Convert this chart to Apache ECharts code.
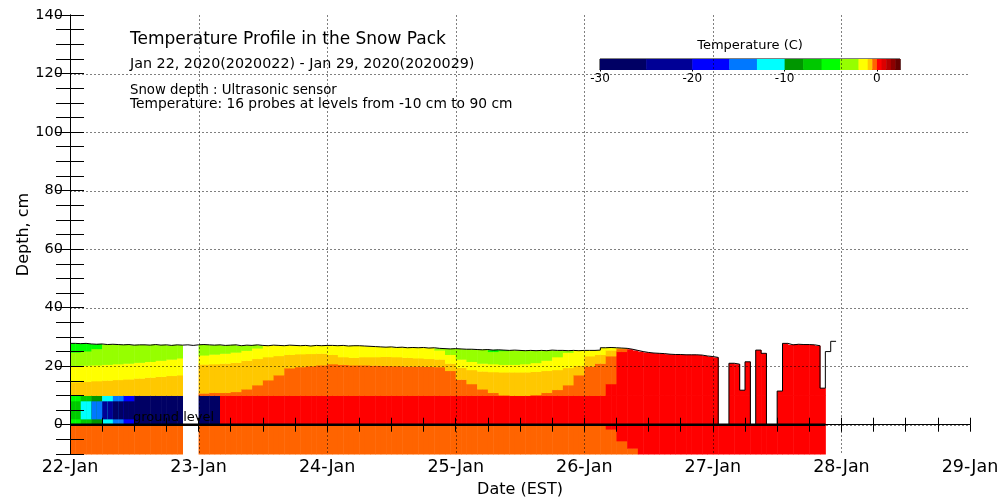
<!DOCTYPE html>
<html>
<head>
<meta charset="utf-8">
<script src="https://cdn.jsdelivr.net/npm/echarts@6/dist/echarts.min.js"></script>
<style>
html, body { margin: 0; padding: 0; background: #fff; }
#chart { width: 1000px; height: 500px; }
</style>
</head>
<body>
<div id="chart"></div>
<script>
// 刻度标签
const dayLabels = ['22-Jan', '23-Jan', '24-Jan', '25-Jan', '26-Jan', '27-Jan', '28-Jan', '29-Jan'];
const depthLabels = [0, 20, 40, 60, 80, 100, 120, 140];
const depthTicks = [-10, -5, 0, 5, 10, 15, 20, 25, 30, 35, 40, 45, 50, 55, 60, 65, 70, 75, 80, 85, 90,
    95, 100, 105, 110, 115, 120, 125, 130, 135, 140];
const depthGrid = [0, 20, 40, 60, 80, 100, 120];
const dayGrid = [1, 2, 3, 4, 5, 6];

// 色标 (C)
const tempBreaks = [-30, -25, -20, -16, -13, -10, -8, -6, -4, -2, -1, -0.5, 0, 0.5, 1, 1.5, 2, 2.5];
const tempColors = ['#000064', '#000096', '#0000ff', '#0078ff', '#00ffff', '#009600', '#00c800', '#00ff00',
    '#96ff00', '#ffff00', '#ffc800', '#ff6400', '#ff0000', '#dc0000', '#b40000', '#8c0000', '#640000'];
const tempBarLabels = [-30, -20, -10, 0];

// 雪深 cm, 每小时
const snow22 = [27.8, 27.7, 27.8, 27.6, 27.5, 27.6, 27.4, 27.5, 27.4, 27.3, 27.4, 27.2, 27.3, 27.3, 27.2, 27.4, 27.2, 27.3, 27.1, 27.3, 27.2, 27.3, 27.1, 27.3];
const snow23 = [27.4, 27.3, 27.2, 27.3, 27.1, 27.2, 27.3, 27.0, 27.2, 27.1, 27.3, 27.1, 27.0, 27.2, 27.1, 27.0, 27.2, 27.1, 27.0, 27.1, 26.9, 27.1, 27.0, 27.1];
const snow24 = [27.1, 27.0, 27.1, 26.9, 27.0, 27.0, 26.9, 26.8, 26.7, 26.6, 26.5, 26.6, 26.4, 26.5, 26.3, 26.4, 26.3, 26.4, 26.2, 26.3, 26.1, 26.0, 25.9, 26.0];
const snow25 = [25.9, 25.8, 25.8, 25.7, 25.6, 25.7, 25.5, 25.6, 25.5, 25.4, 25.5, 25.4, 25.3, 25.4, 25.3, 25.4, 25.3, 25.5, 25.4, 25.4, 25.3, 25.4, 25.3, 25.4];
const snow26 = [25.4, 25.4, 25.5, 26.3, 26.4, 26.3, 26.2, 26.1, 25.8, 25.4, 25.0, 24.7, 24.5, 24.4, 24.3, 24.1, 24.0, 24.0, 23.9, 23.9, 23.9, 23.8, 23.5, 23.3];
const snow27 = [23.0, 0, 0, 21.0, 20.7, 11.8, 21.5, 0, 25.5, 24.4, 0, 0, 11.5, 27.8, 27.3, 27.5, 27.4, 27.4, 27.3, 27.0, 12.5, 25.0, 28.5, null];

// 没有温度记录的小时 (从 22-Jan 00:00 起)
const tempMissingHours = [21, 22, 23, 141, 142, 143];

// 等温线深度 cm, 每两小时 (30 = 在雪面以上)
const iso0 = [
    10, 10, 10, 10, 10, 10, 10, 10, 10, 10, 10, 10,
    10, 10, 10, 10, 10, 10, 10, 10, 10, 10, 10, 10,
    10, 10, 10, 10, 10, 10, 10, 10, 10, 10, 10, 10,
    10, 10, 10, 10, 10, 10, 10, 10, 10, 10, 10, 10,
    10, 10, 14, 25, 30, 30, 30, 30, 30, 30, 30, 30,
    30, 30, 30, 30, 30, 30, 30, 30, 30, 30, 30, 30];
const iso05 = [
    10, 10, 10, 10, 10, 10, 10, 10, 10, 10, 10, 10,
    10.8, 11.0, 11.0, 11.3, 12.2, 13.6, 15.3, 17.0, 19.4, 19.8, 20.1, 20.4,
    20.8, 20.6, 20.4, 20.4, 20.3, 20.2, 20.1, 20.0, 20.0, 19.9, 19.8, 18.5,
    15.5, 14.0, 12.2, 11.0, 10.2, 10.0, 10.0, 10.3, 11.0, 12.0, 13.6, 17.0,
    20.0, 21.0, 23.5, 26, 30, 30, 30, 30, 30, 30, 30, 30,
    30, 30, 30, 30, 30, 30, 30, 30, 30, 30, 30, 30];
const iso1 = [
    14.6, 14.8, 15.0, 15.2, 15.4, 15.6, 15.9, 16.2, 16.5, 16.8, 17.0, 17.0,
    20.7, 20.8, 21.0, 21.3, 22.0, 22.6, 23.2, 23.6, 24.0, 24.2, 24.3, 24.4,
    24.0, 23.2, 23.0, 23.2, 23.2, 23.3, 23.2, 23.0, 22.8, 22.6, 22.4, 21.0,
    19.6, 18.8, 18.3, 18.1, 18.0, 18.0, 18.0, 18.2, 18.5, 18.8, 19.5, 20.3,
    23.5, 24.0, 25.5, 30, 30, 30, 30, 30, 30, 30, 30, 30,
    30, 30, 30, 30, 30, 30, 30, 30, 30, 30, 30, 30];
const iso2 = [
    20.2, 20.3, 20.4, 20.6, 20.8, 21.0, 21.3, 21.6, 22.0, 22.4, 22.8, 23.0,
    23.8, 24.1, 24.4, 24.8, 25.4, 26.2, 30, 30, 30, 30, 30, 30,
    30, 30, 30, 30, 30, 30, 30, 30, 30, 30, 25.5, 24.0,
    22.4, 21.6, 21.0, 20.8, 20.6, 20.6, 20.8, 21.2, 22.0, 23.2, 24.7, 30,
    30, 30, 30, 30, 30, 30, 30, 30, 30, 30, 30, 30,
    30, 30, 30, 30, 30, 30, 30, 30, 30, 30, 30, 30];
const iso4 = [
    24.8, 25.2, 26.0, 30, 30, 30, 30, 30, 30, 30, 30, 30,
    30, 30, 30, 30, 30, 30, 30, 30, 30, 30, 30, 30,
    30, 30, 30, 30, 30, 30, 30, 30, 30, 30, 30, 30,
    30, 30, 30, 25.0, 25.3, 30, 30, 30, 30, 30, 30, 30,
    30, 30, 30, 30, 30, 30, 30, 30, 30, 30, 30, 30,
    30, 30, 30, 30, 30, 30, 30, 30, 30, 30, 30, 30];
// 各层温度: 0C线以下, -0.5, -1, -2, -4, 最上层
const snowLayerTemps = [0.25, -0.25, -0.75, -1.5, -3, -5];

// 地面层 (0-10 cm) 温度, 每两小时: 边缘 / 中间
const groundEdge = [
    -5, -7, -9, -11, -14, -18, -27, -27, -27, -27, -27, -27,
    -27, -27, 0.25, 0.25, 0.25, 0.25, 0.25, 0.25, 0.25, 0.25, 0.25, 0.25,
    0.25, 0.25, 0.25, 0.25, 0.25, 0.25, 0.25, 0.25, 0.25, 0.25, 0.25, 0.25,
    0.25, 0.25, 0.25, 0.25, 0.25, 0.25, 0.25, 0.25, 0.25, 0.25, 0.25, 0.25,
    0.25, 0.25, 0.25, 0.25, 0.25, 0.25, 0.25, 0.25, 0.25, 0.25, 0.25, 0.25,
    0.25, 0.25, 0.25, 0.25, 0.25, 0.25, 0.25, 0.25, 0.25, 0.25, 0.25, 0.25];
const groundCore = [
    -7, -11, -14, -22, -27, -27, -27, -27, -27, -27, -27, -27,
    -27, -27, 0.25, 0.25, 0.25, 0.25, 0.25, 0.25, 0.25, 0.25, 0.25, 0.25,
    0.25, 0.25, 0.25, 0.25, 0.25, 0.25, 0.25, 0.25, 0.25, 0.25, 0.25, 0.25,
    0.25, 0.25, 0.25, 0.25, 0.25, 0.25, 0.25, 0.25, 0.25, 0.25, 0.25, 0.25,
    0.25, 0.25, 0.25, 0.25, 0.25, 0.25, 0.25, 0.25, 0.25, 0.25, 0.25, 0.25,
    0.25, 0.25, 0.25, 0.25, 0.25, 0.25, 0.25, 0.25, 0.25, 0.25, 0.25, 0.25];
const groundRimCm = 2;

// 土壤 (-10-0 cm): 0C 线以下深度, 每两小时 (0 = 全部低于0C)
const soilIso0 = [
    0, 0, 0, 0, 0, 0, 0, 0, 0, 0, 0, 0,
    0, 0, 0, 0, 0, 0, 0, 0, 0, 0, 0, 0,
    0, 0, 0, 0, 0, 0, 0, 0, 0, 0, 0, 0,
    0, 0, 0, 0, 0, 0, 0, 0, 0, 0, 0, 0,
    0, 0, -1.5, -5.5, -8, -10, -10, -10, -10, -10, -10, -10,
    -10, -10, -10, -10, -10, -10, -10, -10, -10, -10, -10, -10];

const groundLabel = ['ground level', 0.49];

const FONT = '"DejaVu Sans", sans-serif';
const snowDepth = [].concat(snow22, snow23, snow24, snow25, snow26, snow27);
const isoLines = [iso0, iso05, iso1, iso2, iso4];

// 组装格子 [t0, t1, 下, 上, 温度]
const cells = [];
let tempEnd = 0;
snowDepth.forEach((s, h) => {
    if (s == null || tempMissingHours.indexOf(h) > -1) return;
    const c = Math.floor(h / 2);
    const t0 = h / 24, t1 = (h + 1) / 24;
    tempEnd = Math.max(tempEnd, t1);
    if (soilIso0[c] > -10) cells.push([t0, t1, -10, soilIso0[c], snowLayerTemps[1]]);
    if (soilIso0[c] < 0) cells.push([t0, t1, soilIso0[c], 0, snowLayerTemps[0]]);
    const g = Math.min(10, s);
    if (g > 0) {
        cells.push([t0, t1, 0, g, groundEdge[c]]);
        if (groundCore[c] !== groundEdge[c] && g > groundRimCm) {
            cells.push([t0, t1, groundRimCm, Math.min(g, 10 - groundRimCm), groundCore[c]]);
        }
    }
    let lo = 10;
    isoLines.forEach((iso, i) => {
        const hi = Math.min(iso[c], s);
        if (hi > lo) {
            cells.push([t0, t1, lo, hi, snowLayerTemps[i]]);
            lo = hi;
        }
    });
    if (s > lo) cells.push([t0, t1, lo, s, snowLayerTemps[5]]);
});

const surface = [];
snowDepth.forEach((s, h) => { if (s != null) surface.push([h / 24, s]); });
surface.push([surface[surface.length - 1][0] + 1 / 24, surface[surface.length - 1][1]]);

const colorBar = tempColors.map((c, i) => [tempBreaks[i], tempBreaks[i + 1], 0, 1, (tempBreaks[i] + tempBreaks[i + 1]) / 2]);

// 网格虚线: [0, x] 竖线, [1, y] 横线
const gridLines = dayGrid.map(d => [0, d]).concat(depthGrid.map(d => [1, d]));

const drawCell = (params, api) => {
    const p0 = api.coord([api.value(0), api.value(3)]);
    const p1 = api.coord([api.value(1), api.value(2)]);
    return {
        type: 'rect',
        shape: { x: p0[0], y: p0[1], width: p1[0] - p0[0] + 0.5, height: p1[1] - p0[1] + 0.5 },
        style: { fill: api.visual('color') }
    };
};

const drawGridLine = (params, api) => {
    const cs = params.coordSys;
    const v = api.value(1);
    let a, b;
    if (api.value(0) === 0) {
        a = [api.coord([v, 0])[0], cs.y];
        b = [a[0], cs.y + cs.height];
    } else {
        a = [cs.x, api.coord([0, v])[1]];
        b = [cs.x + cs.width, a[1]];
    }
    return {
        type: 'line',
        shape: { x1: Math.round(a[0]) + 0.5, y1: Math.round(a[1]) + 0.5, x2: Math.round(b[0]) + 0.5, y2: Math.round(b[1]) + 0.5 },
        style: { stroke: '#000', lineWidth: 1, lineDash: [1, 3] }
    };
};

const tickStyle = { color: '#000', width: 1 };

const chart = echarts.init(document.getElementById('chart'));
chart.setOption({
    animation: false,
    backgroundColor: '#fff',
    graphic: [
        { type: 'text', x: 130, y: 40, style: { text: 'Temperature Profile in the Snow Pack', fill: '#000', font: '17px ' + FONT, verticalAlign: 'middle' } },
        { type: 'text', x: 130, y: 64, style: { text: 'Jan 22, 2020(2020022) - Jan 29, 2020(2020029)', fill: '#000', font: '14.3px ' + FONT, verticalAlign: 'middle' } },
        { type: 'text', x: 130, y: 91, style: { text: 'Snow depth : Ultrasonic sensor', fill: '#000', font: '13.3px ' + FONT, verticalAlign: 'middle' } },
        { type: 'text', x: 130, y: 104, style: { text: 'Temperature: 16 probes at levels from -10 cm to 90 cm', fill: '#000', font: '13.8px ' + FONT, verticalAlign: 'middle' } },
        { type: 'text', x: 750, y: 46, style: { text: 'Temperature (C)', fill: '#000', font: '13px ' + FONT, align: 'center', verticalAlign: 'middle' } }
    ],
    grid: [
        { left: 70, right: 30, top: 15, bottom: 46, outerBoundsMode: 'none' },
        { left: 600, width: 300, top: 59, height: 10.5, outerBoundsMode: 'none', show: true, borderColor: '#000', borderWidth: 1 }
    ],
    visualMap: {
        type: 'piecewise',
        show: false,
        dimension: 4,
        seriesIndex: [0, 1],
        pieces: tempColors.map((c, i) => ({ gte: tempBreaks[i], lt: tempBreaks[i + 1], color: c }))
    },
    xAxis: [
        {
            gridIndex: 0, type: 'value', min: 0, max: 7, interval: 1, position: 'bottom', z: 10,
            axisLine: { lineStyle: tickStyle },
            axisTick: { inside: true, length: 7, lineStyle: tickStyle },
            minorTick: { show: true, splitNumber: 4, length: 7, lineStyle: tickStyle },
            axisLabel: { formatter: v => dayLabels[v], color: '#000', fontSize: 17.5, fontFamily: FONT, margin: 4 },
            splitLine: { show: false },
            name: 'Date (EST)', nameLocation: 'middle', nameGap: 28, nameMoveOverlap: false,
            nameTextStyle: { color: '#000', fontSize: 16, fontFamily: FONT }
        },
        {
            gridIndex: 0, type: 'value', min: 0, max: 7, interval: 1, position: 'top', z: 10,
            axisLine: { lineStyle: tickStyle },
            axisTick: { inside: true, length: 7, lineStyle: tickStyle },
            minorTick: { show: true, splitNumber: 4, length: 7, lineStyle: tickStyle },
            axisLabel: { show: false },
            splitLine: { show: false }
        },
        {
            gridIndex: 1, type: 'value', min: -30, max: 2.5,
            axisLine: { lineStyle: tickStyle },
            axisTick: { customValues: tempBarLabels, length: 2, lineStyle: tickStyle },
            axisLabel: { customValues: tempBarLabels, color: '#000', fontSize: 12, fontFamily: FONT, margin: 3 },
            splitLine: { show: false }
        }
    ],
    yAxis: [
        {
            gridIndex: 0, type: 'value', min: -10, max: 140, position: 'left', z: 10,
            axisLine: { show: true, lineStyle: tickStyle },
            axisTick: { show: true, inside: true, length: 14, customValues: depthTicks, lineStyle: tickStyle },
            axisLabel: { customValues: depthLabels, color: '#000', fontSize: 14.5, fontFamily: FONT, margin: 7 },
            splitLine: { show: false },
            name: 'Depth, cm', nameLocation: 'middle', nameGap: 38, nameRotate: 90, nameMoveOverlap: false,
            nameTextStyle: { color: '#000', fontSize: 16, fontFamily: FONT }
        },
        {
            gridIndex: 0, type: 'value', min: -10, max: 140, position: 'right', z: 10,
            axisLine: { show: true, lineStyle: tickStyle },
            axisTick: { show: true, inside: true, length: 14, customValues: depthTicks, lineStyle: tickStyle },
            axisLabel: { show: false },
            splitLine: { show: false }
        },
        { gridIndex: 1, type: 'value', min: 0, max: 1, show: false }
    ],
    series: [
        {
            type: 'custom', xAxisIndex: 0, yAxisIndex: 0, z: 2, silent: true,
            renderItem: drawCell, encode: { x: [0, 1], y: [2, 3] }, data: cells
        },
        {
            type: 'custom', xAxisIndex: 2, yAxisIndex: 2, z: 2, silent: true,
            renderItem: drawCell, encode: { x: [0, 1], y: [2, 3] }, data: colorBar
        },
        {
            type: 'line', xAxisIndex: 0, yAxisIndex: 0, z: 3, step: 'end', symbol: 'none', silent: true,
            lineStyle: { color: '#000', width: 1 }, data: surface
        },
        {
            type: 'custom', xAxisIndex: 0, yAxisIndex: 0, z: 8, silent: true,
            renderItem: drawGridLine, encode: { x: -1, y: -1 }, data: gridLines
        },
        {
            type: 'line', xAxisIndex: 0, yAxisIndex: 0, z: 9, symbol: 'none', silent: true,
            lineStyle: { color: '#000', width: 2.5 }, data: [[0, 0], [tempEnd, 0]]
        },
        {
            type: 'custom', xAxisIndex: 0, yAxisIndex: 0, z: 10, silent: true,
            renderItem: (params, api) => {
                const p = api.coord([api.value(1), 0]);
                return {
                    type: 'text', x: p[0], y: p[1] - 1,
                    style: { text: groundLabel[0], fill: '#000', font: '13px ' + FONT, verticalAlign: 'bottom' }
                };
            },
            data: [[0, groundLabel[1]]]
        }
    ]
});
</script>
</body>
</html>
